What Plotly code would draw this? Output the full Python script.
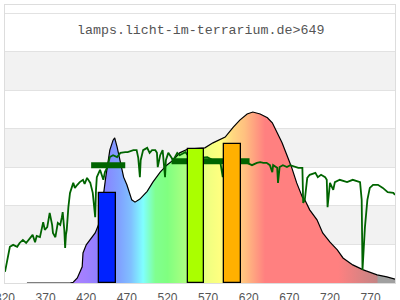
import plotly.graph_objects as go

title_text = "lamps.licht-im-terrarium.de>649"

# relative spectral curve (rainbow-filled)
spec_nm = [347, 360, 380, 400, 404, 409, 415, 416, 420, 425,
           431, 435, 440, 444, 449, 453, 455, 458, 462, 466,
           470, 473, 476, 480, 486, 495, 502, 511, 519, 527,
           535, 545, 555, 566, 576, 591, 601, 609, 618, 625,
           634, 643, 649, 655, 661, 667, 673, 679, 686, 689,
           695, 704, 711, 720, 729, 736, 748, 761, 778, 790,
           800]
spec_val = [0, 0, 0, 0, 0.02, 0.13, 0.42, 0.78, 0.99, 1.12,
            1.30, 1.51, 2.1, 2.75, 3.45, 3.71, 3.77, 3.53, 3.12, 2.75,
            2.55, 2.34, 2.16, 2.10, 2.18, 2.38, 2.62, 2.88, 3.06, 3.19,
            3.38, 3.48, 3.50, 3.51, 3.64, 3.79, 4.05, 4.23, 4.39, 4.44,
            4.39, 4.29, 4.16, 3.92, 3.64, 3.32, 2.99, 2.60, 2.23, 2.16,
            1.90, 1.64, 1.30, 1.06, 0.86, 0.65, 0.47, 0.34, 0.21, 0.16,
            0.10]

# measured lamp spectrum (green line)
meas_nm = [320, 321, 324, 326, 330, 335, 338, 342, 346, 351,
           354, 357, 359, 363, 366, 367, 369, 372, 375, 378,
           379, 382, 385, 388, 390, 391, 393, 394, 395, 396,
           398, 400, 404, 406, 409, 412, 416, 418, 421, 425,
           428, 431, 432, 433, 437, 441, 443, 446, 449, 453,
           458, 462, 468, 471, 478, 482, 484, 486, 487, 490,
           495, 498, 501, 505, 507, 508, 511, 514, 517, 518,
           521, 523, 527, 532, 535, 542, 545, 554, 560, 569,
           576, 585, 588, 589, 593, 600, 609, 618, 624, 630,
           634, 638, 642, 646, 649, 650, 655, 656, 658, 662,
           667, 671, 677, 681, 686, 687, 689, 692, 695, 702,
           705, 709, 714, 716, 717, 719, 720, 724, 726, 732,
           741, 748, 757, 759, 760, 763, 766, 769, 773, 779,
           785, 791, 798, 800]
meas_val = [0.29, 0.39, 0.78, 0.94, 0.99, 0.94, 1.04, 1.12, 1.04, 1.17,
            1.25, 1.06, 1.22, 1.19, 1.45, 1.58, 1.38, 1.45, 1.82, 1.51,
            1.30, 1.19, 1.56, 1.51, 1.71, 1.84, 1.38, 0.91, 1.25, 1.38,
            1.97, 2.34, 2.60, 2.47, 2.55, 2.62, 2.68, 2.57, 2.73, 2.60,
            2.34, 1.71, 2.42, 2.75, 2.94, 2.68, 2.88, 3.01, 3.27, 3.32,
            3.27, 3.38, 3.40, 3.40, 3.45, 3.45, 3.25, 2.75, 3.19, 3.45,
            3.51, 3.38, 3.45, 3.45, 3.38, 3.01, 3.32, 3.45, 2.75, 3.19,
            3.38, 3.32, 3.19, 3.38, 3.32, 3.40, 3.32, 3.27, 3.25, 3.27,
            3.19, 3.14, 2.75, 3.06, 3.19, 3.14, 3.12, 3.12, 3.06, 3.12,
            3.14, 3.12, 3.12, 3.06, 2.88, 3.06, 2.99, 2.60, 3.01, 3.06,
            3.01, 3.06, 3.01, 2.99, 2.99, 2.08, 2.16, 2.73, 2.81, 2.86,
            2.75, 2.81, 2.75, 2.68, 1.97, 2.42, 2.60, 2.42, 2.62, 2.68,
            2.62, 2.68, 2.62, 2.16, 0.34, 1.45, 2.16, 2.47, 2.55, 2.55,
            2.47, 2.36, 2.34, 2.29]

# band averages (thick dark-green segments)
avg_start = [426, 525]
avg_end = [468, 621]
avg_val = [3.06, 3.16]

# LED bars
bar_center = [446.5, 555.5, 600]
bar_width = [21, 20, 20]
bar_height = [2.34, 3.49, 3.61]
bar_colors = ["#0022ff", "#aaff00", "#ffb000"]

# spectral gradient for the fill
grad_nm = [320, 400, 420, 440, 460, 475, 490, 505, 520, 545,
           570, 585, 600, 615, 640, 730, 778, 779, 800]
grad_col = ["#b080ff", "#b080ff", "#a080ff", "#8a80ff", "#80a0ff", "#80c0ff",
            "#80ffff", "#80ff90", "#80ff80", "#b0ff80", "#f0ff80", "#ffff80",
            "#ffd880", "#ffc080", "#ff8080", "#ff8080", "#c48484", "#a0a0a0",
            "#a0a0a0"]

x_ticks = [320, 370, 420, 470, 520, 570, 620, 670, 720, 770]
x_min, x_max = 320, 800
y_max = 7.22

colorscale = [[(n - x_min) / (x_max - x_min), c] for n, c in zip(grad_nm, grad_col)]

fig = go.Figure()

for lo in [1, 3, 5]:
    fig.add_shape(type="rect", xref="paper", x0=0, x1=1, yref="y", y0=lo, y1=lo + 1,
                  fillcolor="#f2f2f2", line_width=0, layer="below")

fig.add_trace(go.Scatter(
    x=spec_nm, y=spec_val, mode="lines",
    line=dict(color="black", width=1.2),
    fill="tozeroy",
    fillgradient=dict(type="horizontal", colorscale=colorscale, start=x_min, stop=x_max),
    hoverinfo="skip", showlegend=False))

fig.add_trace(go.Scatter(
    x=meas_nm, y=meas_val, mode="lines",
    line=dict(color="#006400", width=1.8),
    hoverinfo="skip", showlegend=False))

seg_x, seg_y = [], []
for s, e, v in zip(avg_start, avg_end, avg_val):
    seg_x += [s, e, None]
    seg_y += [v, v, None]
fig.add_trace(go.Scatter(
    x=seg_x, y=seg_y, mode="lines",
    line=dict(color="#006400", width=6),
    hoverinfo="skip", showlegend=False))

fig.add_trace(go.Bar(
    x=bar_center, y=bar_height, width=bar_width,
    marker=dict(color=bar_colors, line=dict(color="black", width=1.3)),
    xaxis="x2", yaxis="y2", hoverinfo="skip", showlegend=False))

fig.add_annotation(
    text=title_text, xref="paper", x=0.5, yref="y", y=6.55,
    showarrow=False, font=dict(family="Liberation Mono", size=13.3, color="#555555"))

fig.update_layout(
    width=400, height=300,
    margin=dict(l=5, r=5, t=5, b=17, autoexpand=False),
    paper_bgcolor="white", plot_bgcolor="white",
    xaxis=dict(range=[x_min, x_max], tickvals=x_ticks, ticks="", showgrid=False,
               showline=True, mirror=True, linecolor="#dddddd", linewidth=1,
               zeroline=False, automargin=False, ticklabelstandoff=4,
               ticklabeloverflow="allow",
               tickfont=dict(family="Liberation Sans", size=12, color="#555555")),
    yaxis=dict(range=[0, y_max], dtick=1, tick0=0, showgrid=True, gridcolor="#e2e2e2",
               showticklabels=False, ticks="", showline=True, mirror=True,
               linecolor="#dddddd", linewidth=1, zeroline=False, automargin=False),
    xaxis2=dict(range=[x_min, x_max], overlaying="x", visible=False, automargin=False),
    yaxis2=dict(range=[0, y_max], overlaying="y", visible=False, automargin=False),
    bargap=0,
)

fig.write_html("out.html")
